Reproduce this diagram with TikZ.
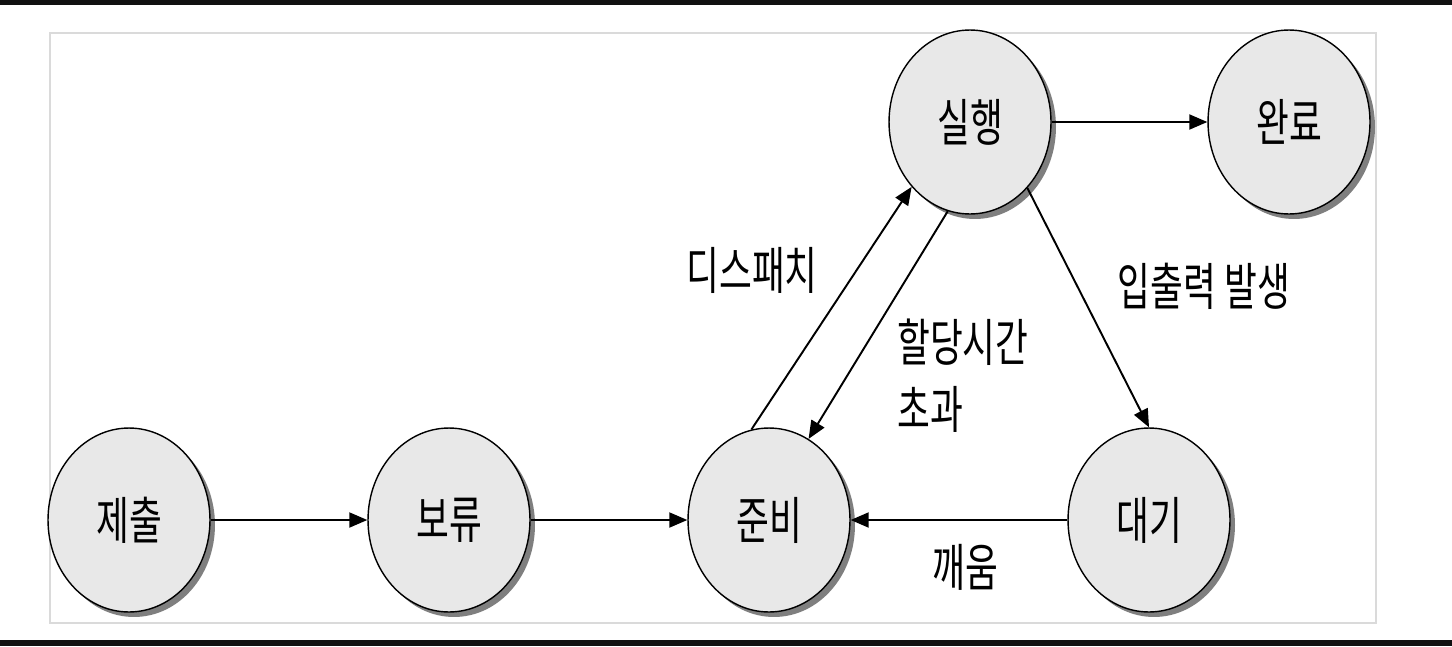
\documentclass[tikz,border=0pt]{standalone}
\usepackage{fontspec}
\newfontfamily\krfont[FakeStretch=0.7]{Noto Sans CJK KR}
\usepackage{tikz}
\usetikzlibrary{positioning,arrows.meta,shapes.geometric,shadows}
\definecolor{cFill}{HTML}{E8E8E8}
\definecolor{cShade}{HTML}{7F7F7F}
\definecolor{cFrame}{HTML}{DADADA}
\definecolor{cBar}{HTML}{111111}

\begin{document}
\begin{tikzpicture}[x=0.02cm,y=-0.02cm,
      font=\krfont\fontsize{29pt}{38pt}\selectfont,
      state/.style={ellipse,draw=black,line width=0.8pt,fill=cFill,
        minimum width=3.24cm,minimum height=3.68cm,inner sep=0pt,
        drop shadow={shadow xshift=0.1cm,shadow yshift=-0.1cm,fill=cShade,opacity=1}},
      arr/.style={-{Triangle[length=0.36cm,width=0.3cm]},line width=1.1pt},
      lbl/.style={inner sep=0pt}]
    \useasboundingbox (0,0) rectangle (1452,646);
    \fill[cBar] (0,0) rectangle (1452,5);
    \fill[cBar] (0,640) rectangle (1452,646);
    \draw[cFrame,line width=1pt] (50,33) rectangle (1376,623);
    % states
    \node[state] (sub) at (129,520) {제출};
    \node[state] (hold) at (449,520) {보류};
    \node[state] (ready) at (769,520) {준비};
    \node[state] (wait) at (1149,520) {대기};
    \node[state] (run) at (970,122) {실행};
    \node[state] (done) at (1289,122) {완료};
    % transitions
    \draw[arr] (sub) -- (hold);
    \draw[arr] (hold) -- (ready);
    \draw[arr] (run) -- (done);
    \draw[arr] (wait) -- (ready);
    \draw[arr] (ready.101) -- (run.228);
    \draw[arr] (run.256) -- (ready.64);
    \draw[arr] (run.311) -- (wait.90);
    % labels
    \node[lbl] (lDispatch) at (752,270) {디스패치};
    \node[lbl,anchor=west,align=left] (lTimeout) at (897,376) {할당시간\\초과};
    \node[lbl] (lIO) at (1204,286) {입출력 발생};
    \node[lbl] (lWake) at (965,567) {깨움};
  \end{tikzpicture}
\end{document}
